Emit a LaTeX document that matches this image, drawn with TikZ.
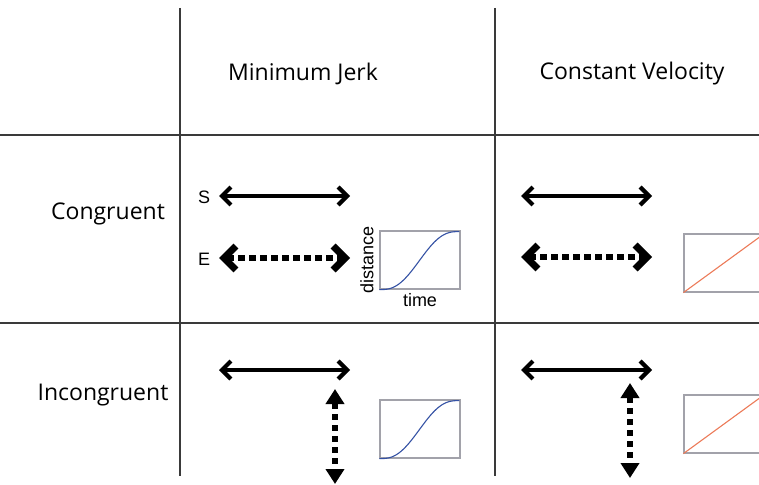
\documentclass[tikz,border=0pt]{standalone}
\usepackage{fontspec}
\setmainfont{Open Sans}
\newfontfamily\plotfont{Liberation Sans}
\usetikzlibrary{arrows.meta}
\definecolor{G1}{HTML}{3a3a3a}
\definecolor{B1}{HTML}{a2a2aa}
\definecolor{C1}{HTML}{3552a4}
\definecolor{C2}{HTML}{ec7a58}

\begin{document}
\begin{tikzpicture}[
	x = 1pt, y = -1pt,
	gridline/.style = {draw=G1, line width=1.3pt},
	ruleline/.style = {draw=G1, line width=2.2pt},
	head/.style = {font=\fontsize{23}{27}\selectfont, inner sep=0pt},
	small/.style = {font=\plotfont\fontsize{18}{21}\selectfont, inner sep=0pt},
	solidarrow/.style = {draw, line width=3.2pt, {Straight Barb[length=9pt, width=18pt, line width=4.2pt]}-{Straight Barb[length=9pt, width=18pt, line width=4.2pt]}},
	dotarrow/.style = {draw, line width=6.5pt, dash pattern=on 6.5pt off 4.5pt, {Straight Barb[length=12pt, width=24pt, line width=7pt]}-{Straight Barb[length=12pt, width=24pt, line width=7pt]}},
	vdotarrow/.style = {draw, line width=5.5pt, dash pattern=on 6pt off 5pt, {Triangle[length=15pt, width=18pt]}-{Triangle[length=15pt, width=18pt]}},
	plotbox/.style = {draw=B1, line width=1.2pt, minimum width=80pt, minimum height=58pt, inner sep=0pt},
	mjcurve/.style = {draw=C1, line width=1.1pt},
	cvline/.style = {draw=C2, line width=1.1pt}
]
  \useasboundingbox (0,0) rectangle (759,484);

  % Table lines
  \draw[gridline] (180,8) -- (180,476);
  \draw[gridline] (495,8) -- (495,476);
  \draw[ruleline] (0,135) -- (759,135);
  \draw[ruleline] (0,323) -- (759,323);

  % Headers
  \node[head] at (303,74) (mj) {Minimum Jerk};
  \node[head] at (632,74) (cv) {Constant Velocity};
  \node[head] at (108,214) (cong) {Congruent};
  \node[head] at (103,395) (incong) {Incongruent};

  % Congruent, minimum jerk
  \node[small] at (204,197) (s) {S};
  \node[small] at (204,259) (e) {E};
  \coordinate (s1) at (219,196);
  \coordinate (s2) at (350,196);
  \coordinate (e1) at (219,258);
  \coordinate (e2) at (350,258);
  \node[plotbox] at (420,260) (mjC) {};
  \node[small, rotate=90] at (367,260) (dist) {distance};
  \node[small] at (420,300) (tm) {time};

  % Congruent, constant velocity
  \coordinate (s3) at (521,196);
  \coordinate (s4) at (652,196);
  \coordinate (e3) at (521,257);
  \coordinate (e4) at (652,257);
  \node[plotbox] at (724,263) (cvC) {};

  % Incongruent, minimum jerk
  \coordinate (h1) at (219,370);
  \coordinate (h2) at (350,370);
  \coordinate (v1) at (335,389);
  \coordinate (v2) at (335,484);
  \node[plotbox] at (420,429) (mjI) {};

  % Incongruent, constant velocity
  \coordinate (h3) at (521,370);
  \coordinate (h4) at (652,370);
  \coordinate (v3) at (630,383);
  \coordinate (v4) at (630,478);
  \node[plotbox] at (724,424) (cvI) {};

  % Arrows
  \draw[solidarrow] (s1) -- (s2);
  \draw[dotarrow] (e1) -- (e2);
  \draw[solidarrow] (s3) -- (s4);
  \draw[dotarrow] (e3) -- (e4);
  \draw[solidarrow] (h1) -- (h2);
  \draw[vdotarrow] (v1) -- (v2);
  \draw[solidarrow] (h3) -- (h4);
  \draw[vdotarrow] (v3) -- (v4);

  % Curves
  \foreach \b in {mjC, mjI}
    \draw[mjcurve, shift={(\b.south west)}] plot[domain=0:1, samples=50, smooth]
      ({80*\x}, {-58*(10*\x^3 - 15*\x^4 + 6*\x^5)});
  \foreach \b in {cvC, cvI}
    \draw[cvline] (\b.south west) -- (\b.north east);
\end{tikzpicture}
\end{document}
